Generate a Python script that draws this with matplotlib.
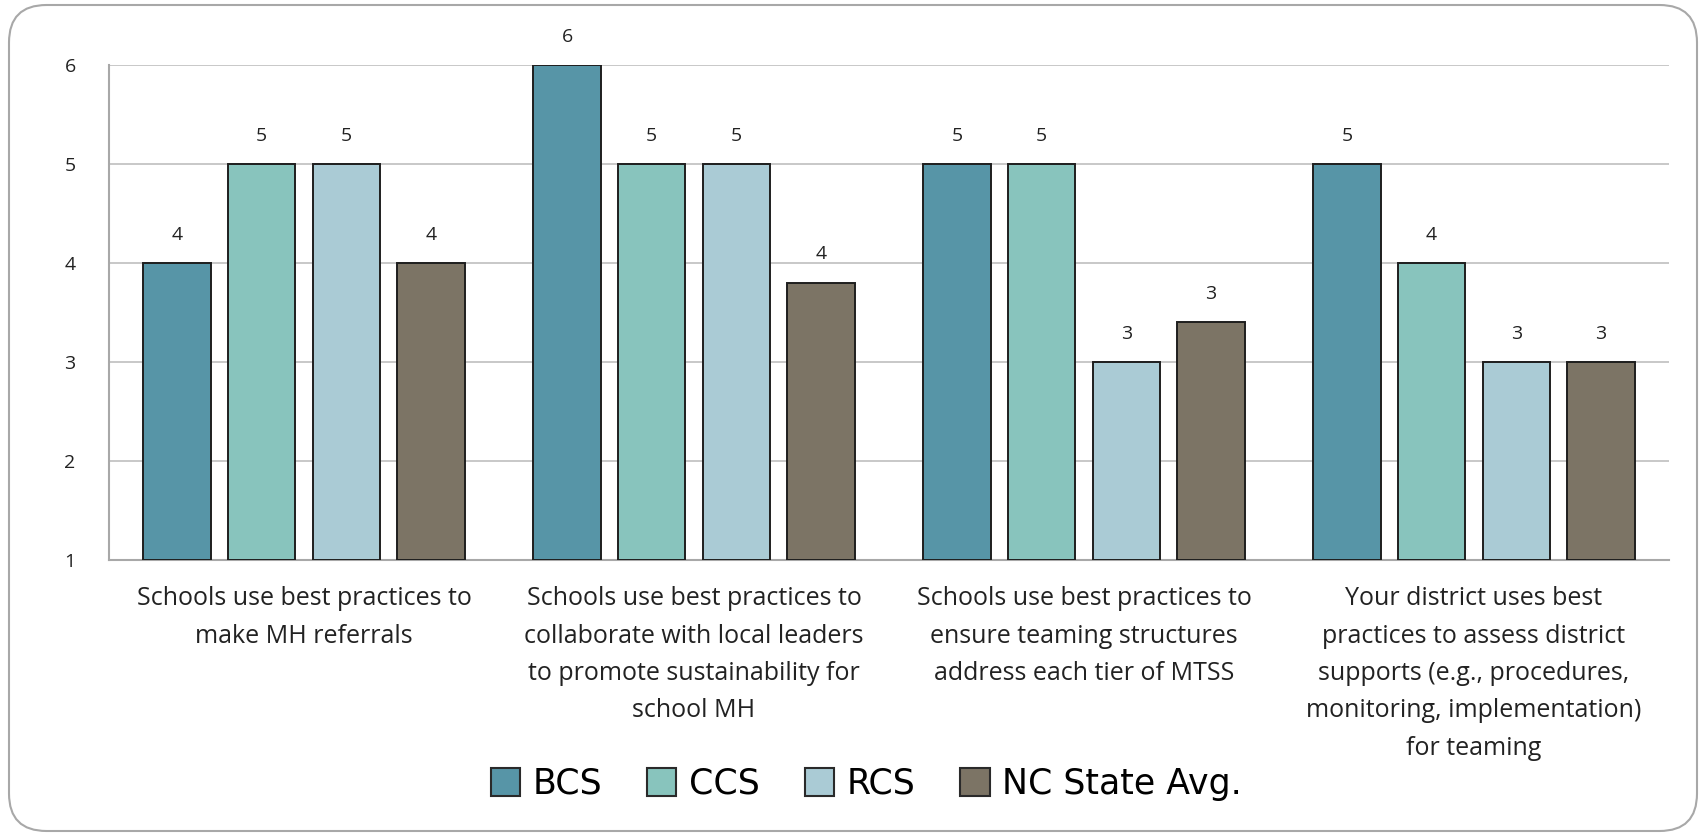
import matplotlib
matplotlib.use("Agg")
import matplotlib.pyplot as plt
import numpy as np
from matplotlib.patches import FancyBboxPatch, Patch

categories = [
    "Schools use best practices to\nmake MH referrals",
    "Schools use best practices to\ncollaborate with local leaders\nto promote sustainability for\nschool MH",
    "Schools use best practices to\nensure teaming structures\naddress each tier of MTSS",
    "Your district uses best\npractices to assess district\nsupports (e.g., procedures,\nmonitoring, implementation)\nfor teaming",
]
series_names = ["BCS", "CCS", "RCS", "NC State Avg."]
bcs = [4, 6, 5, 5]
ccs = [5, 5, 5, 4]
rcs = [5, 5, 3, 3]
nc_avg = [4.0, 3.8, 3.4, 3.0]
y_ticks = [1, 2, 3, 4, 5, 6]

colors = ["#5795A7", "#88C4BD", "#AACBD5", "#7C7465"]
series = [bcs, ccs, rcs, nc_avg]

plt.rcParams['font.family'] = ['Open Sans', 'DejaVu Sans']

fig = plt.figure(figsize=(17.05, 8.36), dpi=100)
fig.patch.set_facecolor("white")
border = FancyBboxPatch((9/1705, 5/836), (1697-9)/1705, (831-5)/836,
                        boxstyle="round,pad=0,rounding_size=0.022",
                        transform=fig.transFigure, facecolor="none",
                        edgecolor="#A8A8A8", linewidth=1.5, zorder=-5,
                        mutation_aspect=1705/836)
fig.patches.append(border)

ax = fig.add_axes([109/1705, 1 - 560/836, (1669-109)/1705, (560-65)/836])
ax.set_facecolor("none")

x = np.arange(len(categories))
width = 0.173
step = 0.217
for i, (vals, col, name) in enumerate(zip(series, colors, series_names)):
    pos = x + (i - 1.5) * step
    heights = [v - 1 for v in vals]
    ax.bar(pos, heights, width, bottom=1, color=col, edgecolor="#1e1e1e",
           linewidth=1.4, label=name, zorder=3)
    for p, v in zip(pos, vals):
        ax.annotate(f"{int(round(v))}", (p, v), xytext=(0, 14), textcoords="offset points",
                    ha="center", va="bottom", fontsize=14, color="#222222")

ax.set_ylim(1, 6)
ax.set_xlim(-0.5, 3.5)
ax.set_yticks(y_ticks)
ax.yaxis.grid(True, color="#C8C8C8", linewidth=1.4, zorder=0)
ax.set_axisbelow(True)
for s in ["top", "right"]:
    ax.spines[s].set_visible(False)
ax.spines["left"].set_color("#A8A8A8")
ax.spines["bottom"].set_color("#A8A8A8")
ax.spines["left"].set_linewidth(1.5)
ax.spines["bottom"].set_linewidth(1.5)
ax.tick_params(axis="y", length=0, pad=24, labelsize=14, labelcolor="#222222")
ax.tick_params(axis="x", length=0, pad=19, labelsize=18, labelcolor="#222222")
ax.set_xticks(x)
ax.set_xticklabels(categories, linespacing=1.65)

handles = [Patch(facecolor=c, edgecolor="#2a2a2a", linewidth=1.5) for c in colors]
fig.legend(handles, series_names, loc="center", bbox_to_anchor=(866/1705, 1 - 784/836),
           ncol=4, frameon=False, prop={"family": ["DejaVu Sans"], "size": 25},
           handlelength=0.85, handleheight=0.85,
           handletextpad=0.35, columnspacing=1.3)

fig.savefig("out.png", dpi=100, facecolor="white")
